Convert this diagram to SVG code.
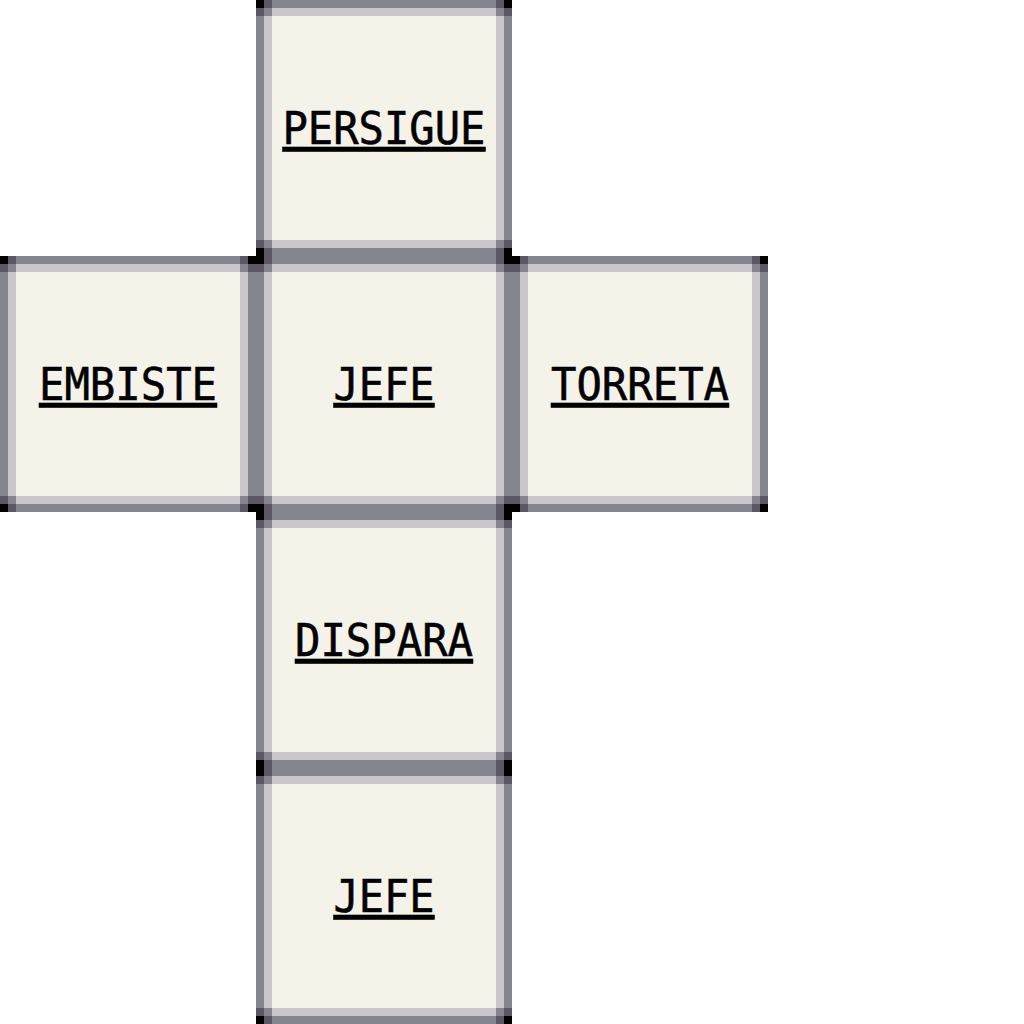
<svg xmlns="http://www.w3.org/2000/svg" xmlns:xlink="http://www.w3.org/1999/xlink" width="1024" height="1024" viewBox="0 0 1024 1024">
  <style>
    .lbl { font-family: "DejaVu Sans Mono", "Liberation Mono", monospace; font-size: 45px; font-weight: normal; fill: #000000; stroke: #000000; stroke-width: 0.6px; text-anchor: middle; text-decoration: underline; }
  </style>
  <defs>
    <g id="tile">
      <rect x="0" y="0" width="256" height="256" fill="#85858f"/>
      <rect x="8" y="8" width="240" height="240" fill="#c9c7c9"/>
      <rect x="16" y="16" width="224" height="224" fill="#f5f3e9"/>
      <g fill="#000000">
        <rect x="0" y="0" width="8" height="8"/>
        <rect x="248" y="0" width="8" height="8"/>
        <rect x="0" y="248" width="8" height="8"/>
        <rect x="248" y="248" width="8" height="8"/>
      </g>
      <g fill="#5b5662">
        <rect x="8" y="0" width="8" height="8"/>
        <rect x="0" y="8" width="8" height="8"/>
        <rect x="240" y="0" width="8" height="8"/>
        <rect x="248" y="8" width="8" height="8"/>
        <rect x="0" y="240" width="8" height="8"/>
        <rect x="8" y="248" width="8" height="8"/>
        <rect x="240" y="248" width="8" height="8"/>
        <rect x="248" y="240" width="8" height="8"/>
      </g>
      <g fill="#85858f">
        <rect x="8" y="8" width="8" height="8"/>
        <rect x="240" y="8" width="8" height="8"/>
        <rect x="8" y="240" width="8" height="8"/>
        <rect x="240" y="240" width="8" height="8"/>
      </g>
    </g>
  </defs>
  <rect x="0" y="0" width="1024" height="1024" fill="#ffffff"/>
  <g id="connectors"/>
  <g id="node-persigue">
    <use xlink:href="#tile" href="#tile" x="256" y="0"/>
    <text class="lbl" x="384" y="144" textLength="203" lengthAdjust="spacingAndGlyphs">PERSIGUE</text>
  </g>
  <g id="node-embiste">
    <use xlink:href="#tile" href="#tile" x="0" y="256"/>
    <text class="lbl" x="128" y="400" textLength="178" lengthAdjust="spacingAndGlyphs">EMBISTE</text>
  </g>
  <g id="node-jefe-center">
    <use xlink:href="#tile" href="#tile" x="256" y="256"/>
    <text class="lbl" x="384" y="400" textLength="101" lengthAdjust="spacingAndGlyphs">JEFE</text>
  </g>
  <g id="node-torreta">
    <use xlink:href="#tile" href="#tile" x="512" y="256"/>
    <text class="lbl" x="640" y="400" textLength="178" lengthAdjust="spacingAndGlyphs">TORRETA</text>
  </g>
  <g id="node-dispara">
    <use xlink:href="#tile" href="#tile" x="256" y="512"/>
    <text class="lbl" x="384" y="656" textLength="178" lengthAdjust="spacingAndGlyphs">DISPARA</text>
  </g>
  <g id="node-jefe-bottom">
    <use xlink:href="#tile" href="#tile" x="256" y="768"/>
    <text class="lbl" x="384" y="912" textLength="101" lengthAdjust="spacingAndGlyphs">JEFE</text>
  </g>
</svg>
